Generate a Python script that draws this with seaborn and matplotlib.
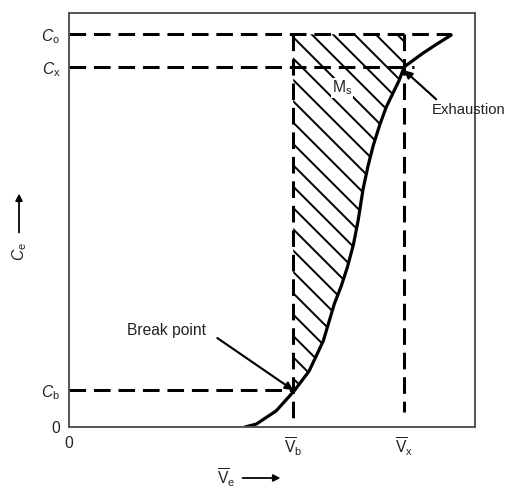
import numpy as np
import seaborn as sns
import matplotlib.pyplot as plt

# breakthrough curve (fraction of axis range)
curve_x = [0.433, 0.461, 0.510, 0.554, 0.591, 0.626, 0.653, 0.670, 0.685, 0.700, 0.712,
           0.724, 0.736, 0.749, 0.765, 0.781, 0.813, 0.825, 0.850, 0.871, 0.905, 0.941]
curve_y = [0.000, 0.007, 0.039, 0.087, 0.135, 0.208, 0.297, 0.340, 0.385, 0.440, 0.500,
           0.575, 0.630, 0.680, 0.730, 0.773, 0.838, 0.870, 0.888, 0.903, 0.925, 0.947]

Vb, Vx = 0.552, 0.825
Cb, Cx, Co = 0.089, 0.870, 0.949

xtick_pos = [0, Vb, Vx]
xtick_labels = ['0', r'$\overline{\mathrm{V}}_\mathrm{b}$', r'$\overline{\mathrm{V}}_\mathrm{x}$']
ytick_pos = [0, Cb, Cx, Co]
ytick_labels = ['0', r'$C_\mathrm{b}$', r'$C_\mathrm{x}$', r'$C_\mathrm{o}$']

sns.set_style('white')
plt.rcParams['font.family'] = ['Liberation Sans', 'DejaVu Sans']
plt.rcParams['mathtext.fontset'] = 'custom'
plt.rcParams['mathtext.rm'] = 'Liberation Sans'
plt.rcParams['mathtext.it'] = 'Liberation Sans:italic'
plt.rcParams['hatch.linewidth'] = 1.1

fs = 8.8
fig = plt.figure(figsize=(4, 3.8125), dpi=128)
ax = fig.add_axes([0.135, 0.125, 0.793, 0.848])

# shaded area between Vb and the curve (capped at Vx)
yy = np.linspace(Cb, Co, 200)
xr = np.minimum(np.interp(yy, curve_y, curve_x), Vx)
ax.fill_betweenx(yy, Vb, xr, facecolor='none', edgecolor='black', hatch='\\\\', linewidth=0)

sns.lineplot(x=curve_x, y=curve_y, sort=False, color='black', lw=1.8, ax=ax)

dash = dict(color='black', lw=1.7, dashes=(5.5, 2.6))
ax.plot([0, curve_x[-1]], [Co, Co], **dash)
ax.plot([0, Vx + 0.025], [Cx, Cx], **dash)
ax.plot([0, Vb], [Cb, Cb], **dash)
ax.plot([Vb, Vb], [Co, 0.02], **dash)
ax.plot([Vx, Vx], [Co, 0.036], **dash)

arrow = dict(arrowstyle='-|>', color='black', lw=1.2, mutation_scale=9, shrinkA=0, shrinkB=0)
ax.annotate('', xy=(Vb, Cb), xytext=(0.365, 0.215), arrowprops=arrow)
ax.text(0.241, 0.232, 'Break point', ha='center', va='center', fontsize=fs, color='#222222')
ax.annotate('', xy=(Vx, Cx - 0.008), xytext=(0.904, 0.792), arrowprops=arrow)
ax.text(0.893, 0.766, 'Exhaustion', ha='left', va='center', fontsize=8.4, color='#222222', clip_on=False)
ax.text(0.672, 0.819, r'$\mathrm{M_s}$', ha='center', va='center', fontsize=fs, color='#222222',
        bbox=dict(facecolor='white', edgecolor='none', pad=0.5))

ax.set_xlim(0, 1)
ax.set_ylim(0, 1)
ax.set_xticks(xtick_pos, xtick_labels, fontsize=fs)
ax.set_yticks(ytick_pos, ytick_labels, fontsize=fs)
ax.tick_params(direction='out', length=3, width=1, color='#555555', pad=2, labelcolor='#222222')
for s in ax.spines.values():
    s.set_color('#555555')
    s.set_linewidth(1.1)

# axis labels with arrows
fig.text(20 / 512, 1 - 252 / 488, r'$C_\mathrm{e}$', rotation=90, ha='center', va='center', fontsize=fs)
fig.patches.append(plt.matplotlib.patches.FancyArrowPatch(
    (19 / 512, 1 - 236 / 488), (19 / 512, 1 - 190 / 488), transform=fig.transFigure,
    arrowstyle='-|>', mutation_scale=8, color='black', lw=1))
fig.text(226 / 512, 1 - 478 / 488, r'$\overline{\mathrm{V}}_\mathrm{e}$', ha='center', va='center', fontsize=fs)
fig.patches.append(plt.matplotlib.patches.FancyArrowPatch(
    (239 / 512, 1 - 478 / 488), (284 / 512, 1 - 478 / 488), transform=fig.transFigure,
    arrowstyle='-|>', mutation_scale=8, color='black', lw=1))

fig.savefig('out.png', dpi=128)
